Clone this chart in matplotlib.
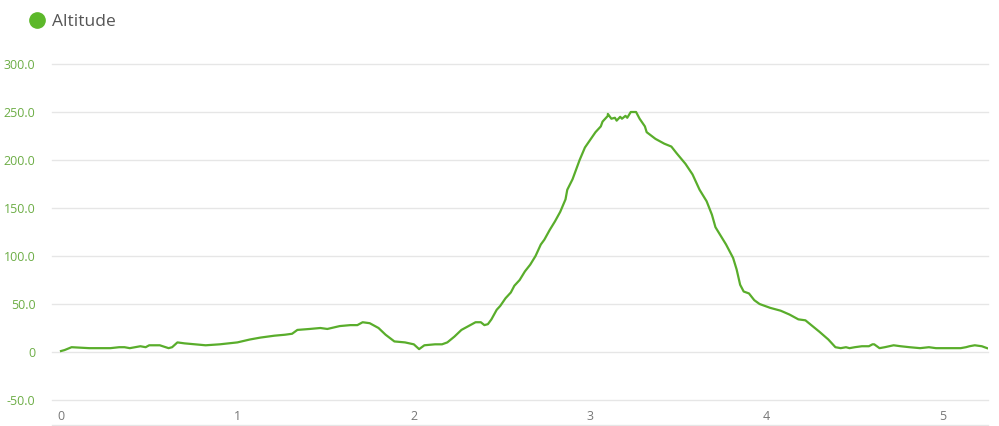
import matplotlib
matplotlib.use("Agg")
import matplotlib.pyplot as plt
from matplotlib.lines import Line2D

# distance (km) and altitude (m)
distance_km = [
    0.00, 0.02, 0.06, 0.16, 0.28, 0.33, 0.36, 0.39, 0.45, 0.48, 0.50, 0.56,
    0.61, 0.63, 0.66, 0.70, 0.76, 0.82, 0.90, 1.00, 1.07, 1.13, 1.21, 1.27,
    1.31, 1.34, 1.41, 1.47, 1.51, 1.58, 1.64, 1.68, 1.71, 1.75, 1.80, 1.84,
    1.89, 1.95, 2.00, 2.03, 2.06, 2.12, 2.16, 2.19, 2.23, 2.27, 2.32, 2.35,
    2.38, 2.40, 2.42, 2.44, 2.47, 2.49, 2.52, 2.55, 2.57, 2.60, 2.63, 2.66,
    2.69, 2.72, 2.74, 2.77, 2.80, 2.83, 2.86, 2.87, 2.90, 2.92, 2.94, 2.97,
    3.00, 3.03, 3.06, 3.07, 3.10, 3.10, 3.12, 3.14, 3.15, 3.17, 3.18, 3.20,
    3.21, 3.23, 3.26, 3.28, 3.31, 3.32, 3.37, 3.42, 3.46, 3.49, 3.54, 3.58,
    3.62, 3.66, 3.69, 3.71, 3.74, 3.77, 3.81, 3.83, 3.85, 3.87, 3.90, 3.93,
    3.96, 4.02, 4.08, 4.13, 4.18, 4.22, 4.26, 4.30, 4.35, 4.39, 4.42, 4.45,
    4.47, 4.50, 4.54, 4.58, 4.60, 4.61, 4.64, 4.67, 4.72, 4.76, 4.81, 4.87,
    4.92, 4.96, 5.01, 5.10, 5.13, 5.15, 5.18, 5.22, 5.25,
]
altitude_m = [
    1, 2, 5, 4, 4, 5, 5, 4, 6, 5, 7, 7,
    4, 5, 10, 9, 8, 7, 8, 10, 13, 15, 17, 18,
    19, 23, 24, 25, 24, 27, 28, 28, 31, 30, 25, 18,
    11, 10, 8, 3, 7, 8, 8, 10, 16, 23, 28, 31,
    31, 28, 29, 34, 44, 48, 56, 62, 69, 75, 84, 91,
    100, 112, 117, 127, 136, 146, 159, 169, 180, 190, 200, 213,
    221, 229, 235, 240, 246, 248, 243, 244, 241, 245, 243, 246,
    244, 250, 250, 243, 235, 229, 222, 217, 214, 207, 196, 185,
    169, 157, 143, 130, 121, 112, 98, 86, 70, 63, 61, 54,
    50, 46, 43, 39, 34, 33, 27, 21, 13, 5, 4, 5,
    4, 5, 6, 6, 8, 8, 4, 5, 7, 6, 5, 4,
    5, 4, 4, 4, 5, 6, 7, 6, 4,
]

y_ticks = [-50, 0, 50, 100, 150, 200, 250, 300]
y_tick_labels = ["-50.0", "0", "50.0", "100.0", "150.0", "200.0", "250.0", "300.0"]
x_ticks = [0, 1, 2, 3, 4, 5]

LINE_GREEN = "#59ad2b"
LABEL_GREEN = "#6cad45"
GRID = "#e6e6e6"

plt.rcParams["font.family"] = ["Open Sans", "DejaVu Sans"]

fig = plt.figure(figsize=(9.99, 4.26), dpi=100)
fig.patch.set_facecolor("white")
ax = fig.add_axes([52 / 999, 1 - 400 / 426, (988 - 52) / 999, (400 - 64) / 426])

ax.plot(distance_km, altitude_m, color=LINE_GREEN, linewidth=1.6,
        solid_joinstyle="round", zorder=3)

ax.set_xlim(-0.051, 5.255)
ax.set_ylim(-50, 300)

ax.set_yticks(y_ticks)
ax.set_yticklabels(y_tick_labels)
ax.set_xticks(x_ticks)
ax.tick_params(axis="y", length=0, pad=12, labelsize=9, labelcolor=LABEL_GREEN)
ax.tick_params(axis="x", length=0, pad=7, labelsize=9, labelcolor="#777777")

ax.grid(axis="y", color=GRID, linewidth=1.0)
ax.grid(axis="x", visible=False)
for gl in ax.get_ygridlines():
    gl.set_clip_on(False)
ax.set_axisbelow(True)
for side in ("top", "right", "left", "bottom"):
    ax.spines[side].set_visible(False)

# faint base line under the x labels
fig.add_artist(Line2D([52 / 999, 988 / 999], [1 - 425 / 426] * 2,
                      transform=fig.transFigure, color=GRID, linewidth=1.0))

handle = Line2D([], [], linestyle="none", marker="o", markersize=11,
                markerfacecolor="#5cb82a", markeredgecolor="#5cb82a")
fig.legend(handles=[handle], labels=["Altitude"], loc="upper left",
           bbox_to_anchor=(0.011, 1.004), frameon=False, fontsize=12.5,
           handletextpad=0.25, handlelength=1.2, labelcolor="#555555")

fig.savefig("out.png", dpi=100, facecolor="white")
